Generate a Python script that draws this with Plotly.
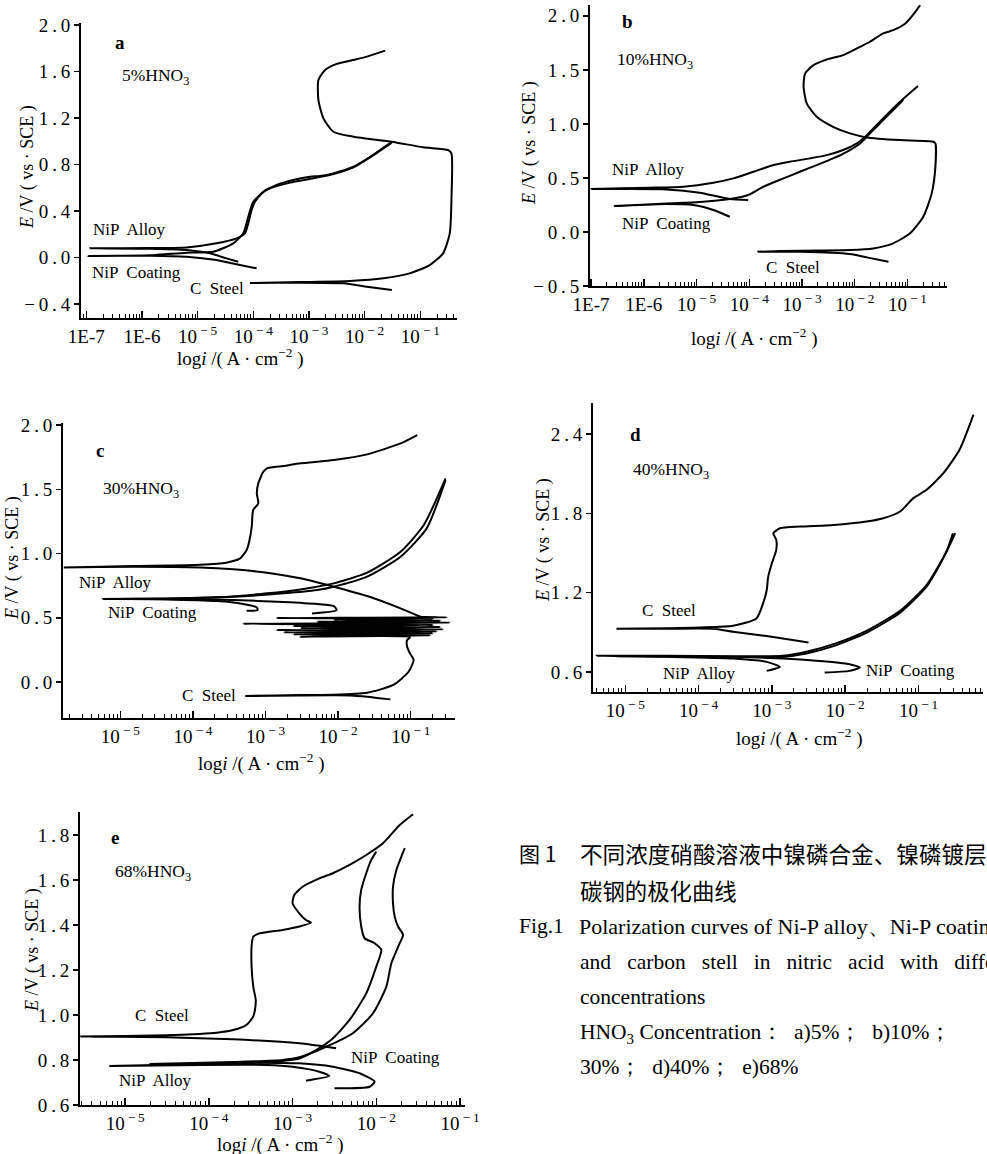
import plotly.graph_objects as go

# ---------------- data (log10 of current density, A/cm^2 ; potential E, V vs SCE) ----------------
# panel a : 5% HNO3
a_alloy_logi = [-4.27, -4.48, -4.78, -5.20, -5.86, -6.93, -5.86, -5.20, -4.66, -4.30, -4.15, -4.09, -4.03, -3.97, -3.82, -3.58, -3.28, -2.98, -2.80, -2.56, -2.20, -1.90, -1.51]
a_alloy_E = [-0.036, -0.007, 0.036, 0.065, 0.076, 0.079, 0.082, 0.087, 0.122, 0.165, 0.208, 0.294, 0.409, 0.480, 0.566, 0.624, 0.667, 0.695, 0.701, 0.724, 0.781, 0.867, 0.996]
a_coat_logi = [-3.94, -4.24, -4.66, -5.20, -5.86, -6.96, -5.86, -5.20, -4.72, -4.36, -4.18, -4.09, -4.00, -3.76, -3.34, -2.92, -2.56, -2.20, -1.90, -1.51]
a_coat_E = [-0.093, -0.065, -0.022, 0.007, 0.016, 0.013, 0.019, 0.042, 0.050, 0.122, 0.208, 0.351, 0.480, 0.581, 0.644, 0.681, 0.718, 0.776, 0.862, 0.988]
a_steel_logi = [-1.51, -1.96, -2.38, -3.16, -4.06, -3.16, -2.26, -1.66, -1.19, -0.83, -0.59, -0.47, -0.44, -0.44, -0.50, -0.95, -1.51, -2.20, -2.56, -2.74, -2.83, -2.83, -2.71, -2.50, -2.20, -1.96, -1.63]
a_steel_E = [-0.280, -0.251, -0.222, -0.216, -0.219, -0.211, -0.202, -0.179, -0.136, -0.065, 0.036, 0.208, 0.495, 0.896, 0.925, 0.948, 0.996, 1.039, 1.082, 1.197, 1.355, 1.527, 1.613, 1.665, 1.699, 1.728, 1.779]

# panel b : 10% HNO3
b_alloy_logi = [-4.02, -4.37, -4.94, -5.57, -6.99, -5.89, -5.25, -4.68, -4.30, -3.92, -3.54, -3.23, -2.85, -2.53, -2.22, -1.96, -1.77, -1.46, -1.14, -0.80]
b_alloy_E = [0.295, 0.305, 0.363, 0.394, 0.397, 0.409, 0.419, 0.456, 0.496, 0.557, 0.619, 0.650, 0.681, 0.711, 0.758, 0.819, 0.896, 1.051, 1.205, 1.350]
b_coat_logi = [-4.37, -4.68, -5.06, -5.57, -6.55, -5.57, -4.94, -4.37, -4.02, -3.73, -3.35, -3.04, -2.72, -2.41, -2.15, -1.90, -1.71, -1.46, -1.08]
b_coat_E = [0.141, 0.203, 0.249, 0.258, 0.240, 0.264, 0.277, 0.305, 0.342, 0.419, 0.496, 0.557, 0.619, 0.681, 0.742, 0.819, 0.912, 1.035, 1.220]
b_steel_logi = [-1.36, -1.77, -2.09, -3.04, -3.83, -3.04, -2.09, -1.65, -1.27, -0.95, -0.70, -0.54, -0.47, -0.47, -0.51, -1.14, -1.77, -2.09, -2.41, -2.72, -2.91, -2.97, -2.94, -2.78, -2.53, -2.22, -1.90, -1.71, -1.46, -1.27, -1.04, -0.85, -0.76]
b_steel_E = [-0.275, -0.235, -0.204, -0.183, -0.183, -0.173, -0.167, -0.152, -0.105, -0.013, 0.141, 0.357, 0.604, 0.819, 0.835, 0.850, 0.875, 0.912, 0.973, 1.066, 1.189, 1.343, 1.467, 1.544, 1.596, 1.636, 1.713, 1.760, 1.837, 1.867, 1.929, 2.037, 2.099]

# panel c : 30% HNO3
c_alloy_logi = [-0.87, -1.14, -1.60, -2.06, -2.52, -2.98, -3.44, -3.90, -4.82, -5.78, -4.82, -3.90, -3.54, -3.35, -3.26, -3.22, -3.19, -3.17, -3.10, -3.12, -3.10, -3.03, -2.98, -2.75, -2.52, -2.06, -1.60, -1.14, -0.91]
c_alloy_E = [0.508, 0.573, 0.669, 0.742, 0.807, 0.851, 0.877, 0.892, 0.898, 0.892, 0.903, 0.913, 0.929, 0.962, 1.027, 1.105, 1.209, 1.339, 1.390, 1.468, 1.546, 1.637, 1.663, 1.681, 1.702, 1.728, 1.772, 1.857, 1.922]
c_coat1_logi = [-3.26, -3.11, -3.12, -3.31, -3.67, -4.36, -5.24, -4.36, -3.67, -2.98, -2.52, -2.06, -1.60, -1.14, -0.82, -0.52]
c_coat1_E = [0.555, 0.560, 0.581, 0.607, 0.630, 0.643, 0.646, 0.649, 0.659, 0.690, 0.721, 0.768, 0.851, 1.014, 1.222, 1.585]
c_coat2_logi = [-2.36, -2.02, -2.06, -2.29, -2.75, -3.44, -4.36, -5.05, -4.36, -3.44, -2.75, -2.29, -2.06, -1.60, -1.14, -0.78, -0.52]
c_coat2_E = [0.534, 0.560, 0.591, 0.607, 0.623, 0.638, 0.646, 0.646, 0.651, 0.664, 0.690, 0.716, 0.742, 0.820, 0.975, 1.196, 1.572]
c_steel_logi = [-1.28, -1.60, -1.83, -2.52, -3.28, -2.52, -2.06, -1.60, -1.24, -1.03, -0.96, -1.01, -1.05, -1.05, -1.01, -2.52, -0.73, -2.62, -0.69, -2.75, -0.64, -2.85, -0.55, -2.52, -0.59, -2.62, -0.69, -3.31, -0.46, -2.29, -0.59, -2.06, -0.69, -2.85, -0.50, -0.91]
c_steel_E = [-0.135, -0.114, -0.104, -0.104, -0.109, -0.101, -0.099, -0.083, -0.023, 0.080, 0.171, 0.223, 0.275, 0.327, 0.348, 0.353, 0.363, 0.371, 0.379, 0.387, 0.394, 0.405, 0.410, 0.420, 0.428, 0.436, 0.444, 0.454, 0.462, 0.470, 0.477, 0.485, 0.493, 0.498, 0.503, 0.508]

# panel d : 40% HNO3
d_steel_logi = [-2.50, -3.07, -3.53, -3.80, -4.44, -5.12, -4.44, -3.98, -3.53, -3.21, -3.12, -3.07, -3.05, -3.00, -2.94, -2.94, -2.98, -2.89, -2.62, -2.16, -1.71, -1.48, -1.25, -1.07, -0.89, -0.66, -0.44, -0.25]
d_steel_E = [0.823, 0.871, 0.904, 0.926, 0.926, 0.926, 0.931, 0.936, 0.949, 1.005, 1.118, 1.220, 1.321, 1.422, 1.523, 1.599, 1.649, 1.687, 1.700, 1.712, 1.738, 1.763, 1.814, 1.915, 1.978, 2.104, 2.281, 2.547]
d_alloy_logi = [-3.07, -2.89, -3.07, -3.53, -4.44, -5.39, -4.44, -3.53, -2.85, -2.53, -2.16, -1.71, -1.25, -0.89, -0.62, -0.53]
d_alloy_E = [0.608, 0.638, 0.676, 0.701, 0.714, 0.722, 0.722, 0.719, 0.722, 0.752, 0.810, 0.911, 1.063, 1.257, 1.510, 1.649]
d_coat_logi = [-2.28, -1.94, -1.80, -1.94, -2.39, -2.85, -3.53, -4.44, -5.12, -4.44, -3.53, -2.85, -2.53, -2.16, -1.71, -1.25, -0.89, -0.64, -0.50]
d_coat_E = [0.595, 0.608, 0.633, 0.658, 0.684, 0.701, 0.714, 0.719, 0.719, 0.717, 0.714, 0.714, 0.739, 0.795, 0.896, 1.048, 1.245, 1.485, 1.649]

# panel e : 68% HNO3
e_steel_logi = [-2.48, -2.92, -3.71, -4.51, -5.53, -4.51, -4.11, -3.91, -3.71, -3.55, -3.47, -3.45, -3.44, -3.47, -3.49, -3.49, -3.47, -3.39, -3.12, -2.92, -2.78, -2.84, -2.92, -3.00, -2.98, -2.88, -2.68, -2.52, -2.32, -2.12, -1.92, -1.72, -1.56]
e_steel_E = [0.852, 0.874, 0.892, 0.901, 0.904, 0.910, 0.916, 0.921, 0.933, 0.956, 0.993, 1.022, 1.067, 1.126, 1.215, 1.304, 1.348, 1.363, 1.378, 1.393, 1.410, 1.422, 1.452, 1.496, 1.533, 1.570, 1.607, 1.630, 1.667, 1.711, 1.763, 1.844, 1.892]
e_alloy_logi = [-2.84, -2.56, -2.68, -3.00, -3.31, -4.11, -5.19, -4.11, -3.31, -2.92, -2.72, -2.52, -2.32, -2.12, -2.00, -1.94, -2.02, -2.14, -2.18, -2.20, -2.18, -2.12, -2.06, -2.00]
e_alloy_E = [0.708, 0.729, 0.748, 0.770, 0.778, 0.778, 0.773, 0.782, 0.791, 0.807, 0.844, 0.896, 0.978, 1.096, 1.215, 1.289, 1.319, 1.341, 1.393, 1.481, 1.556, 1.630, 1.689, 1.726]
e_coat_logi = [-2.50, -2.08, -2.02, -2.20, -2.52, -2.92, -3.71, -4.71, -3.71, -3.12, -2.92, -2.60, -2.28, -2.04, -1.88, -1.82, -1.72, -1.68, -1.74, -1.78, -1.80, -1.80, -1.76, -1.70, -1.66]
e_coat_E = [0.674, 0.681, 0.704, 0.741, 0.770, 0.785, 0.788, 0.782, 0.791, 0.800, 0.812, 0.859, 0.919, 1.007, 1.126, 1.230, 1.319, 1.356, 1.393, 1.437, 1.496, 1.570, 1.644, 1.704, 1.741]

# tick labels
TS = "\u2009"
x_ticks_long = [-7, -6, -5, -4, -3, -2, -1]
x_text_long = ["1E-7", "1E-6", "10<sup> −" + TS + "5</sup>", "10<sup> −" + TS + "4</sup>", "10<sup> −" + TS + "3</sup>", "10<sup> −" + TS + "2</sup>", "10<sup> −" + TS + "1</sup>"]
x_ticks_short = [-5, -4, -3, -2, -1]
x_text_short = ["10<sup> −" + TS + "5</sup>", "10<sup> −" + TS + "4</sup>", "10<sup> −" + TS + "3</sup>", "10<sup> −" + TS + "2</sup>", "10<sup> −" + TS + "1</sup>"]
y_ticks_a = [-0.4, 0.0, 0.4, 0.8, 1.2, 1.6, 2.0]
y_text_a = ["−0.4", "0.0", "0.4", "0.8", "1.2", "1.6", "2.0"]
y_ticks_b = [-0.5, 0.0, 0.5, 1.0, 1.5, 2.0]
y_text_b = ["−0.5", "0.0", "0.5", "1.0", "1.5", "2.0"]
y_ticks_c = [0.0, 0.5, 1.0, 1.5, 2.0]
y_text_c = ["0.0", "0.5", "1.0", "1.5", "2.0"]
y_ticks_d = [0.6, 1.2, 1.8, 2.4]
y_text_d = ["0.6", "1.2", "1.8", "2.4"]
y_ticks_e = [0.6, 0.8, 1.0, 1.2, 1.4, 1.6, 1.8]
y_text_e = ["0.6", "0.8", "1.0", "1.2", "1.4", "1.6", "1.8"]

# ---------------- figure ----------------
W, H = 987, 1154
def fx(p): return p / W
def fy(p): return 1 - p / H
def spaced(s): return TS.join(s)

SERIF = "Liberation Serif, Times New Roman, serif"
fig = go.Figure()

panels = [
    ("", (81, 457), (23, 318), (-7.095, -0.34), (-0.52, 2.017),
     [(a_alloy_logi, a_alloy_E), (a_coat_logi, a_coat_E), (a_steel_logi, a_steel_E)],
     x_ticks_long, x_text_long, y_ticks_a, y_text_a),
    ("2", (590, 947), (5, 286), (-7.02, -0.25), (-0.5, 2.1),
     [(b_alloy_logi, b_alloy_E), (b_coat_logi, b_coat_E), (b_steel_logi, b_steel_E)],
     x_ticks_long, x_text_long, y_ticks_b, y_text_b),
    ("3", (63, 455), (423, 718), (-5.79, -0.39), (-0.28, 2.016),
     [(c_alloy_logi, c_alloy_E), (c_coat1_logi, c_coat1_E), (c_coat2_logi, c_coat2_E), (c_steel_logi, c_steel_E)],
     x_ticks_short, x_text_short, y_ticks_c, y_text_c),
    ("4", (593, 983), (403, 692), (-5.44, -0.12), (0.448, 2.635),
     [(d_steel_logi, d_steel_E), (d_alloy_logi, d_alloy_E), (d_coat_logi, d_coat_E)],
     x_ticks_short, x_text_short, y_ticks_d, y_text_d),
    ("5", (80, 465), (812, 1105), (-5.54, -0.94), (0.6, 1.902),
     [(e_steel_logi, e_steel_E), (e_alloy_logi, e_alloy_E), (e_coat_logi, e_coat_E)],
     x_ticks_short, x_text_short, y_ticks_e, y_text_e),
]

layout = dict(
    width=W, height=H, margin=dict(l=0, r=0, t=0, b=0, pad=0, autoexpand=False),
    paper_bgcolor="white", plot_bgcolor="white", showlegend=False,
    font=dict(family=SERIF, size=17, color="black"),
)

for key, (x0, x1), (y0, y1), xr, yr, curves, xt, xtxt, yt, ytxt in panels:
    xa = "x" + key
    ya = "y" + key
    for logi, E in curves:
        fig.add_trace(go.Scatter(
            x=[10 ** v for v in logi], y=E, mode="lines",
            line=dict(color="black", width=2, shape="spline", smoothing=0.6),
            xaxis=xa, yaxis=ya, hoverinfo="skip", cliponaxis=True))
    lo = int(xr[0]) - 1
    hi = int(xr[1]) + 1
    minor_vals = [k * 10 ** d for d in range(lo, hi + 1) for k in range(2, 10)]
    layout["xaxis" + key] = dict(
        domain=[fx(x0), fx(x1)], anchor=ya, type="log", range=list(xr),
        automargin=False,
        showgrid=False, zeroline=False, showline=True, linecolor="black", linewidth=2,
        tickmode="array", tickvals=[10 ** v for v in xt], ticktext=xtxt,
        ticks="inside", ticklen=7, tickwidth=1.5, tickcolor="black",
        tickfont=dict(family=SERIF, size=19, color="black"),
        minor=dict(tickmode="array", tickvals=minor_vals, ticks="inside",
                   ticklen=4, tickwidth=1, tickcolor="black", showgrid=False),
    )
    layout["yaxis" + key] = dict(
        domain=[fy(y1), fy(y0)], anchor=xa, range=list(yr),
        automargin=False,
        showgrid=False, zeroline=False, showline=True, linecolor="black", linewidth=2,
        tickmode="array", tickvals=yt, ticktext=[spaced(t) for t in ytxt],
        ticks="outside", ticklen=5, tickwidth=1.5, tickcolor="black",
        tickfont=dict(family=SERIF, size=19, color="black"),
    )

fig.update_layout(**layout)

anns = []
def txt(t, x, y, size=16, anchor="center", angle=0, family=SERIF):
    anns.append(dict(text=t, x=fx(x), y=fy(y), xref="paper", yref="paper",
                     showarrow=False, xanchor=anchor, yanchor="middle",
                     textangle=angle, font=dict(family=family, size=size, color="black")))

ytitle = "<i>E</i> /V ( vs · SCE )"
xtitle = "log<i>i</i> /( A · cm<sup>−2</sup> )"
LS = 17      # label size
HS = 17.5    # HNO3 label size
PS = 19      # panel letter size

# panel a
txt("<b>a</b>", 120, 42, PS)
txt("5%HNO<sub>3</sub>", 155, 77, HS)
txt("NiP  Alloy", 129, 229, LS)
txt("NiP  Coating", 136, 272, LS)
txt("C  Steel", 217, 288, LS)
txt(ytitle, 27, 167, 18, angle=-90)
txt(xtitle, 240, 357, 19)
# panel b
txt("<b>b</b>", 627, 22, PS)
txt("10%HNO<sub>3</sub>", 655, 60, HS)
txt("NiP  Alloy", 648, 170, LS)
txt("NiP  Coating", 666, 223, LS)
txt("C  Steel", 793, 267, LS)
txt(ytitle, 530, 143, 18, angle=-90)
txt(xtitle, 754, 337, 19)
# panel c
txt("<b>c</b>", 100, 450, PS)
txt("30%HNO<sub>3</sub>", 141, 489, HS)
txt("NiP  Alloy", 115, 582, LS)
txt("NiP  Coating", 152, 612, LS)
txt("C  Steel", 209, 695, LS)
txt(ytitle, 13, 558, 18, angle=-90)
txt(xtitle, 261, 762, 19)
# panel d
txt("<b>d</b>", 635, 435, PS)
txt("40%HNO<sub>3</sub>", 671, 470, HS)
txt("C  Steel", 669, 610, LS)
txt("NiP  Alloy", 699, 673, LS)
txt("NiP  Coating", 910, 670, LS)
txt(ytitle, 543, 540, 18, angle=-90)
txt(xtitle, 799, 737, 19)
# panel e
txt("<b>e</b>", 115, 837, PS)
txt("68%HNO<sub>3</sub>", 153, 873, HS)
txt("C  Steel", 162, 1015, LS)
txt("NiP  Alloy", 155, 1080, LS)
txt("NiP  Coating", 395, 1057, LS)
txt(ytitle, 32, 950, 18, angle=-90)
txt(xtitle, 280, 1143, 19)

# caption
CJK = "Noto Sans CJK SC"
NB = "\u00a0"
txt("图 1", 517, 853, 21, anchor="left", family=CJK)
txt("不同浓度硝酸溶液中镍磷合金、镍磷镀层", 578, 853, 22.6, anchor="left", family=CJK)
txt("碳钢的极化曲线", 578, 890, 22.4, anchor="left", family=CJK)
txt("Fig.1", 517, 926, 21.5, anchor="left")
txt("Polarization curves of Ni-P alloy、Ni-P coating", 577, 926, 22, anchor="left")
txt((NB * 3).join(["and", "carbon", "stell", "in", "nitric", "acid", "with", "different"]), 578, 962, 21.5, anchor="left")
txt("concentrations", 578, 997, 21.5, anchor="left")
txt("HNO<sub>3</sub> Concentration：" + NB * 2 + "a)5%；" + NB * 2 + "b)10%；", 578, 1033, 21.5, anchor="left")
txt("30%；" + NB * 2 + "d)40%；" + NB * 2 + "e)68%", 578, 1067, 21.5, anchor="left")

fig.update_layout(annotations=anns)
fig.write_html("out.html", config={"displayModeBar": False, "staticPlot": True},
               post_script="document.body.style.margin='0px';document.body.style.padding='0px';document.body.style.overflow='hidden';")
